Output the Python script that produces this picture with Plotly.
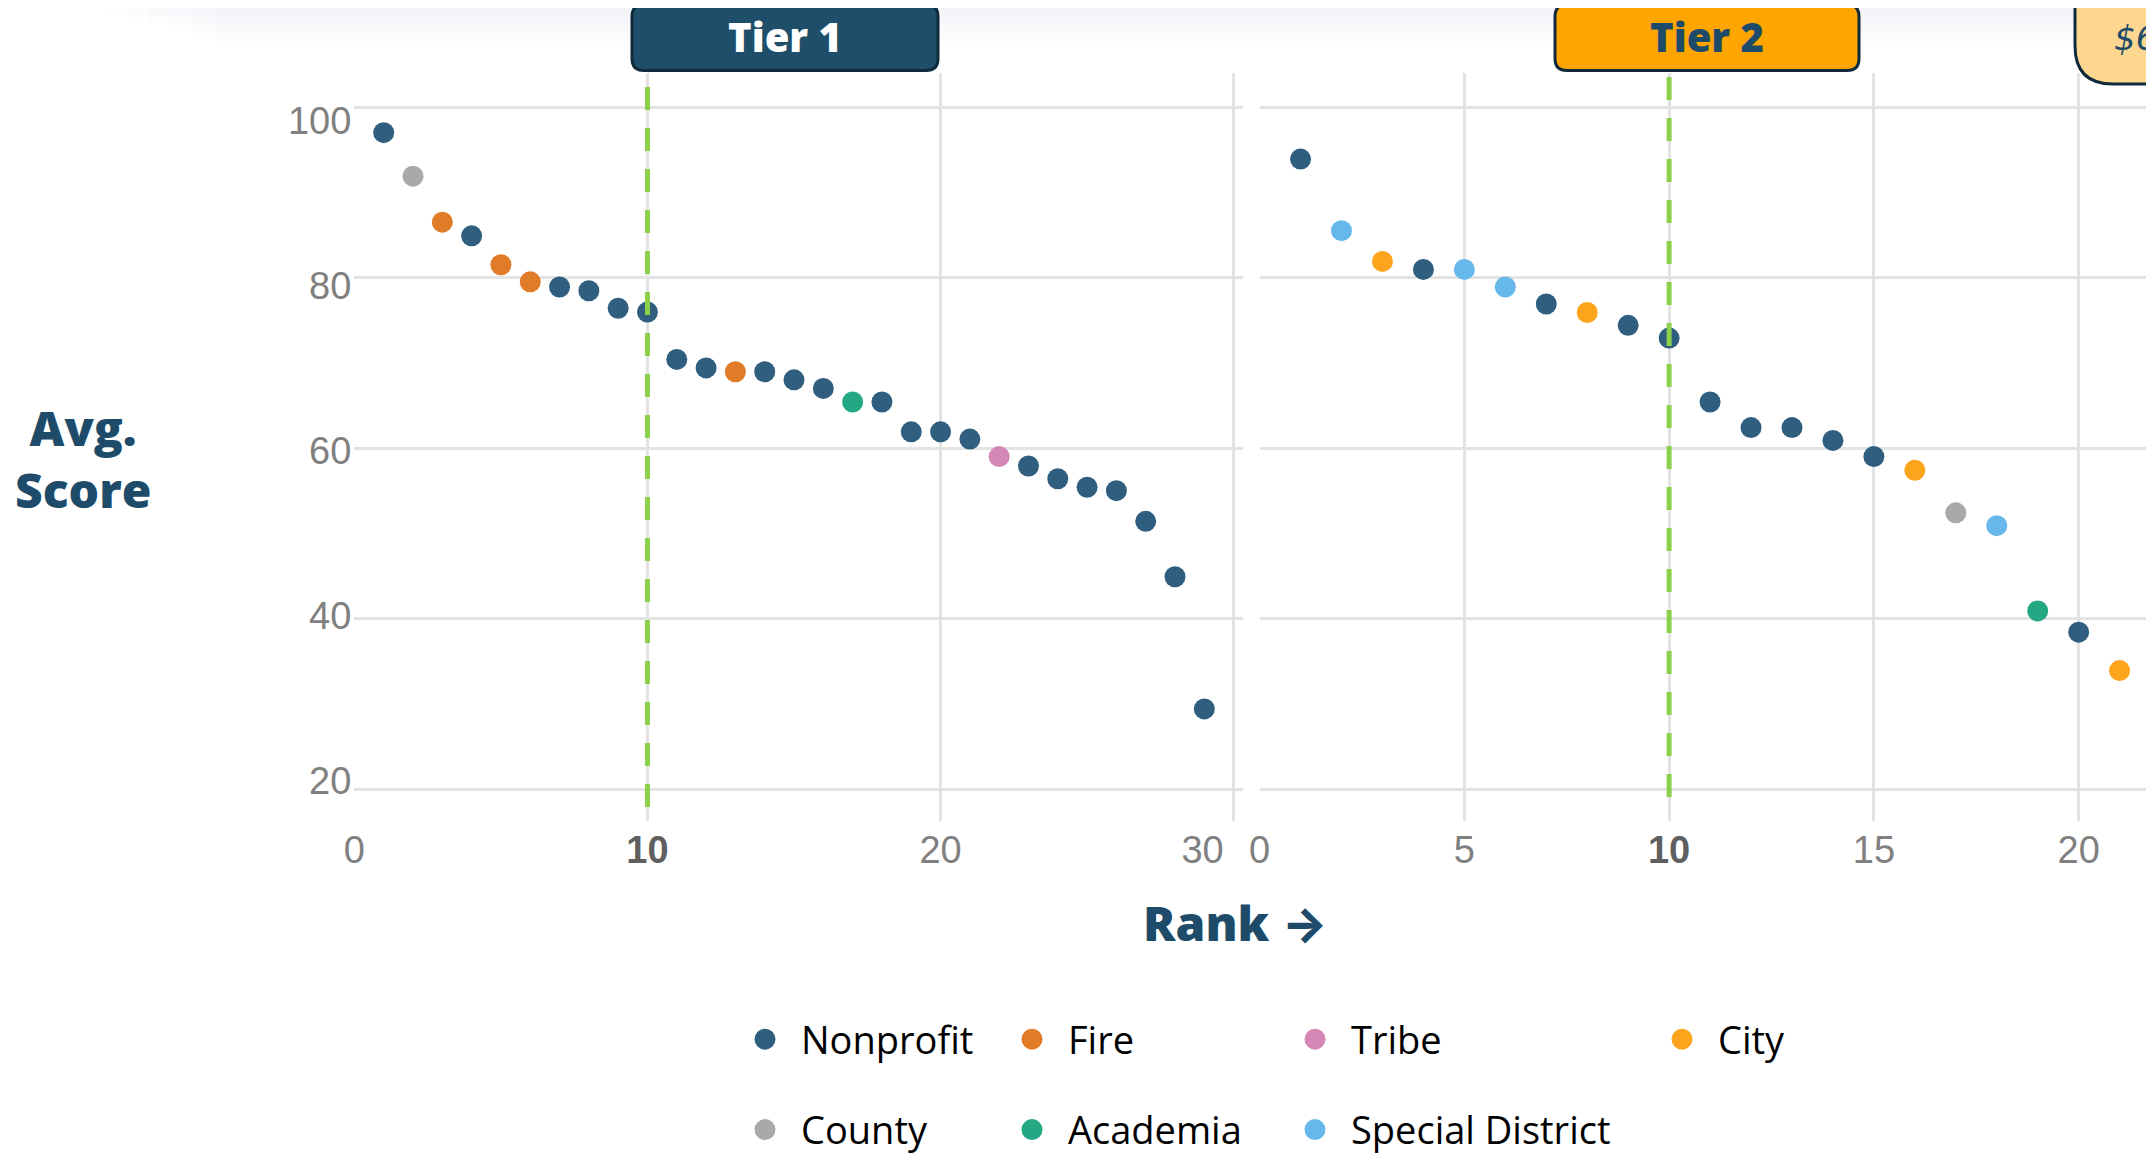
import plotly.graph_objects as go

# The page body adds an 8px margin, so the figure is shifted by OFF pixels.
OFF = 8
W, H = 2154 - OFF, 1154 - OFF

# ---------------- data ----------------
categories = ["Nonprofit", "Fire", "Tribe", "City", "County", "Academia", "Special District"]
category_colors = ["#2f5e7e", "#e07b27", "#d487b5", "#fba41c", "#a9a9a9", "#23a883", "#66b8ea"]

tier1_rank = [1, 2, 3, 4, 5, 6, 7, 8, 9, 10, 11, 12, 13, 14, 15, 16, 17, 18, 19, 20,
              21, 22, 23, 24, 25, 26, 27, 28, 29]
tier1_score = [97.0, 91.9, 86.5, 84.9, 81.5, 79.5, 78.9, 78.45, 76.4, 75.95,
               70.4, 69.4, 68.95, 68.95, 68.0, 67.0, 65.4, 65.4, 61.9, 61.9,
               61.05, 59.0, 57.9, 56.4, 55.4, 55.0, 51.4, 44.9, 29.4]
tier1_type = ["Nonprofit", "County", "Fire", "Nonprofit", "Fire", "Fire", "Nonprofit", "Nonprofit",
              "Nonprofit", "Nonprofit", "Nonprofit", "Nonprofit", "Fire", "Nonprofit", "Nonprofit",
              "Nonprofit", "Academia", "Nonprofit", "Nonprofit", "Nonprofit", "Nonprofit", "Tribe",
              "Nonprofit", "Nonprofit", "Nonprofit", "Nonprofit", "Nonprofit", "Nonprofit", "Nonprofit"]

tier2_rank = [1, 2, 3, 4, 5, 6, 7, 8, 9, 10, 11, 12, 13, 14, 15, 16, 17, 18, 19, 20, 21]
tier2_score = [93.9, 85.5, 81.9, 80.96, 80.96, 78.9, 76.9, 75.9, 74.4, 72.9,
               65.4, 62.4, 62.4, 60.9, 59.0, 57.4, 52.4, 50.9, 40.9, 38.4, 33.9]
tier2_type = ["Nonprofit", "Special District", "City", "Nonprofit", "Special District",
              "Special District", "Nonprofit", "City", "Nonprofit", "Nonprofit", "Nonprofit",
              "Nonprofit", "Nonprofit", "Nonprofit", "Nonprofit", "City", "County",
              "Special District", "Academia", "Nonprofit", "City"]

y_tickvals = [20, 40, 60, 80, 100]
tier1_tickvals = [0, 10, 20]
tier1_ticktext = ["0", "10", "20"]
tier1_last_tick = [30]
tier1_last_ticktext = ["30"]
tier2_tickvals = [0, 5, 10, 15, 20]
tier2_ticktext = ["0", "5", "10", "15", "20"]
cutoff_rank = 10
tier_labels = ["Tier 1", "Tier 2"]
legend_columns = [["Nonprofit", "County"], ["Fire", "Academia"], ["Tribe", "Special District"], ["City"]]

# ---------------- styling helpers ----------------
NAVY = "#1d4b69"
GRID = "#e3e3e3"
TICK_FONT = dict(family="Liberation Sans, Arial, sans-serif", size=38, color="#808080")
TITLE_FONT = dict(family="Open Sans, sans-serif", size=48, color=NAVY, weight=800)


def px_x(p):
    return (p - OFF) / W


def px_y(p):
    return 1 - (p - OFF) / H


def bold_tick(t):
    return f"<b><span style='color:#5f5f5f'>{t}</span></b>" if t == str(cutoff_rank) else t


def rounded_rect(w, h, r):
    x0, x1, y0, y1 = -w / 2, w / 2, -h / 2, h / 2
    return (f"M{x0 + r},{y0} L{x1 - r},{y0} Q{x1},{y0} {x1},{y0 + r} "
            f"L{x1},{y1 - r} Q{x1},{y1} {x1 - r},{y1} L{x0 + r},{y1} "
            f"Q{x0},{y1} {x0},{y1 - r} L{x0},{y0 + r} Q{x0},{y0} {x0 + r},{y0} Z")


color_of = dict(zip(categories, category_colors))

fig = go.Figure()

# data traces
for ranks, scores, types, xa, ya in [(tier1_rank, tier1_score, tier1_type, "x", "y"),
                                     (tier2_rank, tier2_score, tier2_type, "x2", "y2")]:
    for cat in categories:
        xs = [r for r, t in zip(ranks, types) if t == cat]
        ys = [s for s, t in zip(scores, types) if t == cat]
        if not xs:
            continue
        fig.add_trace(go.Scatter(x=xs, y=ys, mode="markers", xaxis=xa, yaxis=ya,
                                 marker=dict(size=21, color=color_of[cat], line=dict(width=0)),
                                 showlegend=False, name=cat, hoverinfo="x+y+name"))

# empty traces so the overlay label axes get drawn
for xa, ya in [("x3", "y"), ("x4", "y"), ("x", "y3")]:
    fig.add_trace(go.Scatter(x=[None], y=[None], xaxis=xa, yaxis=ya, mode="markers",
                             showlegend=False, hoverinfo="skip"))

# legend entries (one legend per column)
legend_names = ["legend", "legend2", "legend3", "legend4"]
for li, col in enumerate(legend_columns):
    for cat in col:
        fig.add_trace(go.Scatter(x=[None], y=[None], mode="markers", name=cat,
                                 legend=legend_names[li], legendgroup=cat,
                                 marker=dict(size=16, color=color_of[cat],
                                             line=dict(width=5, color=color_of[cat]))))

# ---------------- axes ----------------
L_DOM = [px_x(354.4), px_x(1243)]
R_DOM = [px_x(1259.6), 1.0]
Y_DOM = [px_y(821), px_y(73)]
L_RANGE = [0, 30.32]
R_RANGE = [0, 21.84]
Y_RANGE = [16.25, 104.0]
Y_LABEL_RANGE = [15.15, 105.82]

base = dict(showline=False, zeroline=False, ticks="", automargin=False, fixedrange=True)
grid = dict(gridcolor=GRID, gridwidth=2.5)

fig.update_layout(
    width=W, height=H,
    margin=dict(l=0, r=0, t=0, b=0, autoexpand=False),
    paper_bgcolor="white", plot_bgcolor="white",
    xaxis=dict(domain=L_DOM, range=L_RANGE, tickvals=[10, 20, 30], showticklabels=False,
               anchor="y", **base, **grid),
    xaxis3=dict(overlaying="x", range=L_RANGE, tickvals=tier1_tickvals,
                ticktext=[bold_tick(t) for t in tier1_ticktext], showgrid=False,
                anchor="y", ticklabelstandoff=3, tickfont=TICK_FONT, **base),
    xaxis4=dict(overlaying="x", range=L_RANGE, tickvals=tier1_last_tick, ticktext=tier1_last_ticktext,
                showgrid=False, anchor="y", ticklabelshift=-31, ticklabelstandoff=3,
                tickfont=TICK_FONT, **base),
    xaxis2=dict(domain=R_DOM, range=R_RANGE, tickvals=tier2_tickvals,
                ticktext=[bold_tick(t) for t in tier2_ticktext], anchor="y2",
                ticklabelstandoff=3, tickfont=TICK_FONT, **base, **grid),
    yaxis=dict(domain=Y_DOM, range=Y_RANGE, tickvals=y_tickvals, showticklabels=False,
               anchor="x", **base, **grid),
    yaxis3=dict(overlaying="y", range=Y_LABEL_RANGE, tickvals=y_tickvals, showgrid=False,
                anchor="x", tickfont=TICK_FONT, ticklabelstandoff=2, **base),
    yaxis2=dict(domain=Y_DOM, range=Y_RANGE, tickvals=y_tickvals, showticklabels=False,
                anchor="x2", **base, **grid),
    showlegend=True,
    hovermode="closest",
)

legend_marker_x = [765, 1032, 1315, 1682]
legend_common = dict(orientation="v", font=dict(family="Open Sans, sans-serif", size=38, color="#000000"),
                     bgcolor="rgba(0,0,0,0)", borderwidth=0, tracegroupgap=38, itemwidth=62,
                     itemsizing="trace", xanchor="left", yanchor="top", itemclick=False,
                     itemdoubleclick=False)
for li, mx in enumerate(legend_marker_x):
    fig.update_layout({legend_names[li]: dict(x=px_x(mx - 36), y=px_y(1008), **legend_common)})

# ---------------- shapes ----------------
shapes = []
# soft shadow band at top
for k in range(1, 8):
    shapes.append(dict(type="rect", xref="paper", yref="paper", x0=px_x(60 + 22 * k), x1=1.02,
                       y0=px_y(6 * k), y1=1.02, fillcolor="#aab6c0", opacity=0.025,
                       line=dict(width=0), layer="below"))
# cutoff lines
shapes.append(dict(type="line", xref="x", yref="paper", x0=cutoff_rank, x1=cutoff_rank,
                   y0=px_y(807), y1=px_y(80), line=dict(color="#8cd04a", width=5, dash="23px,18px"),
                   layer="above"))
shapes.append(dict(type="line", xref="x2", yref="paper", x0=cutoff_rank, x1=cutoff_rank,
                   y0=px_y(797), y1=px_y(73), line=dict(color="#8cd04a", width=5, dash="23px,18px"),
                   layer="above"))
# tier boxes
box_specs = [(785, 37.5, 306, 66, "#1f4e6b"), (1707, 37.5, 304, 66, "#ffa500")]
for cx, cy, w, h, fill in box_specs:
    shapes.append(dict(type="path", xref="paper", yref="paper", xsizemode="pixel", ysizemode="pixel",
                       xanchor=px_x(cx), yanchor=px_y(cy), path=rounded_rect(w, h, 12),
                       fillcolor=fill, line=dict(color="#0e2a3b", width=3), layer="above"))
# partially visible third box
shapes.append(dict(type="path", xref="paper", yref="paper", xsizemode="pixel", ysizemode="pixel",
                   xanchor=px_x(2240), yanchor=px_y(20), path=rounded_rect(330, 128, 38),
                   fillcolor="#fdd68f", line=dict(color="#0e2a3b", width=3), layer="above"))
fig.update_layout(shapes=shapes)

# ---------------- annotations ----------------
mid = dict(xref="paper", yref="paper", showarrow=False, xanchor="center", yanchor="middle")
ann = [
    dict(text="Avg.<br>Score", x=px_x(83), y=px_y(458), font=TITLE_FONT, align="center", **mid),
    dict(text="Rank <span style='font-family:Inter'>→</span>", x=px_x(1235), y=px_y(922),
         font=TITLE_FONT, **mid),
    dict(text=tier_labels[0], x=px_x(785), y=px_y(37), **mid,
         font=dict(family="Open Sans, sans-serif", size=40, color="white", weight=800)),
    dict(text=tier_labels[1], x=px_x(1707), y=px_y(37), **mid,
         font=dict(family="Open Sans, sans-serif", size=40, color=NAVY, weight=800)),
    dict(text="$6", x=px_x(2112), y=px_y(38), xref="paper", yref="paper", showarrow=False,
         xanchor="left", yanchor="middle",
         font=dict(family="DejaVu Sans, sans-serif", size=34, color=NAVY, style="italic")),
]
fig.update_layout(annotations=ann)

fig.write_html("out.html")
